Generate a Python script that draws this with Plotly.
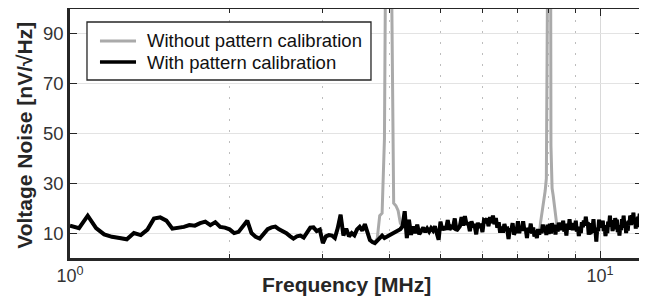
import numpy as np
import plotly.graph_objects as go

# Noise spectral density WITH pattern calibration [nV/sqrt(Hz)], sampled every 0.04 MHz from 1 MHz
with_cal = [
    13, 12, 17, 12, 9.5, 8.5, 8.0, 7.5, 10, 9.2,
    11.4, 15.8, 16.3, 15, 11.8, 12.1, 12.5, 13.2, 13.0, 14.0,
    14.6, 13.2, 14.4, 12.5, 12.2, 11.5, 10, 10.5, 13, 15,
    10, 8.5, 7.8, 9.5, 11.6, 12.3, 12.6, 11.5, 10.8, 10,
    8.8, 7.8, 8.7, 9.0, 8.2, 10.5, 12.2, 12.3, 10.8, 11.4,
    6.0, 8.7, 9.2, 9.0, 8.0, 12, 17.4, 9.0, 11.8, 8.7,
    10, 9.1, 11.5, 12.5, 11.0, 13.6, 10, 7.2, 6.4, 6.0,
    7.0, 7.8, 9.0, 8.0, 8.5, 9.3, 9.8, 10.2, 10.8, 11.1,
    11.6, 12.7, 18.8, 8, 15.4, 9.3, 12.7, 10, 13.4, 9.5,
    11.0, 12.2, 10.4, 11.8, 10.6, 12.0, 11.0, 12.7, 10, 7.3,
    14.6, 11.2, 12.6, 11.4, 15.2, 11.4, 12.6, 12.2, 15.9, 11.0,
    11.8, 12.8, 16.4, 13.0, 16.8, 13.4, 14.2, 10.8, 14.7, 12.9,
    13.0, 9.5, 14.1, 12.2, 13.7, 10.4, 15.2, 14.8, 15.8, 12.8,
    16.4, 14.0, 17.0, 13.6, 16.0, 12.2, 14.3, 10.2, 12.6, 10.2,
    13.6, 11.6, 11.8, 7.6, 11.8, 11.2, 14.0, 9.4, 10.6, 10.6,
    14.8, 10.0, 12.0, 11.0, 14.8, 11.0, 11.8, 8.0, 12.2, 10.2,
    13.8, 9.8, 12.2, 8.6, 11.0, 8.0, 11.6, 9.4, 11.2, 10.0,
    13.4, 10.6, 12.6, 9.2, 13.4, 9.6, 13.8, 9.8, 14.0, 11.2,
    13.4, 9.4, 13.2, 10.6, 14.2, 11.2, 13.4, 11.6, 15.0, 10.6,
    13.0, 9.0, 13.8, 11.4, 15.6, 11.4, 14.0, 11.2, 13.6, 11.6,
    15.0, 10.6, 12.6, 8.8, 11.6, 10.0, 14.4, 12.4, 15.0, 13.0,
    16.6, 13.6, 14.4, 9.4, 10.8, 9.6, 14.0, 12.0, 15.6, 10.2,
    11.4, 6.6, 12.2, 10.8, 15.4, 12.4, 14.8, 12.2, 15.0, 10.8,
    13.2, 8.8, 11.8, 10.0, 14.6, 12.8, 17.0, 12.6, 15.2, 10.8,
    13.6, 11.6, 16.0, 14.4, 15.4, 10.4, 12.8, 9.0, 13.2, 11.2,
    15.6, 13.4, 17.0, 12.2, 14.6, 10.0, 13.0, 11.0, 15.0, 13.2,
    17.0, 13.2, 17.2, 14.4, 18.2, 13.6, 16.2, 11.8, 14.4, 12.4,
    16.6, 14.4, 17.8, 13.8, 17.6, 15.0,
]

# Frequency grid [MHz]
freq_mhz = np.round(1.0 + 0.04 * np.arange(len(with_cal)), 2)

# WITHOUT pattern calibration: same floor, plus the two spurs near 4 MHz and 8 MHz
spur1_freq = [3.80, 3.84, 3.88, 3.92, 3.96, 4.00, 4.04, 4.08, 4.12, 4.16, 4.20]
spur1_vals = [8.0, 17.0, 18.0, 48, 200, 300, 120, 22, 21, 19, 14]
spur2_freq = [7.72, 7.76, 7.80, 7.84, 7.88, 7.92, 7.96, 8.00, 8.04, 8.08,
              8.12, 8.16, 8.20, 8.24, 8.28, 8.32]
spur2_vals = [14, 17, 20, 24, 27, 32, 110, 300, 300, 45,
              28, 25, 21, 17, 14, 12.5]

spurs = dict(zip(spur1_freq + spur2_freq, spur1_vals + spur2_vals))
without_cal = [spurs.get(round(float(f), 2), v) for f, v in zip(freq_mhz, with_cal)]

series_names = ["Without pattern calibration", "With pattern calibration"]
series_colors = ["#aaaaaa", "#000000"]
series_widths = [3, 4]
y_ticks = [10, 30, 50, 70, 90]
x_ticks = [1, 10]
x_ticktext = ["10<sup>0</sup>", "10<sup>1</sup>"]
x_minor = [2, 3, 4, 5, 6, 7, 8, 9]
x_title = "Frequency [MHz]"
y_title = "Voltage Noise [nV/√Hz]"

FONT = "Liberation Sans, Arial, sans-serif"
DARK = "#262626"

fig = go.Figure()
for name, yv, col, w in zip(series_names, [without_cal, with_cal], series_colors, series_widths):
    fig.add_trace(go.Scatter(x=freq_mhz, y=yv, mode="lines", name=name,
                             line=dict(color=col, width=w), showlegend=False))

# Legend drawn as a boxed key (paper coordinates)
shapes = [dict(type="rect", xref="paper", yref="paper", x0=0.0297, x1=0.5262,
               y0=0.7149, y1=0.9478, line=dict(color=DARK, width=1.3),
               fillcolor="white", layer="above")]
annotations = []
for name, col, w, yk in zip(series_names, series_colors, [3, 3.4], [0.8715, 0.7871]):
    shapes.append(dict(type="line", xref="paper", yref="paper", x0=0.0524, x1=0.1154,
                       y0=yk, y1=yk, line=dict(color=col, width=w), layer="above"))
    annotations.append(dict(text=name, xref="paper", yref="paper", x=0.1311, y=yk,
                            xanchor="left", yanchor="middle", showarrow=False,
                            font=dict(size=18.5, color="#111111")))

annotations += [
    dict(text="<b>" + x_title + "</b>", xref="paper", yref="paper",
         x=0.484, y=-0.108, xanchor="center", yanchor="middle",
         showarrow=False, font=dict(size=21, color=DARK)),
    dict(text="<b>" + y_title + "</b>", xref="paper", yref="paper",
         x=-0.079, y=0.494, xanchor="center", yanchor="middle", textangle=-90,
         showarrow=False, font=dict(size=21, color=DARK)),
]

# The page body carries an 8 px margin, so the figure is offset by it.
fig.update_layout(
    width=639, height=292,
    margin=dict(l=62, r=5, t=1, b=42, autoexpand=False),
    paper_bgcolor="white", plot_bgcolor="white",
    font=dict(family=FONT, color=DARK),
    showlegend=False,
    shapes=shapes,
    annotations=annotations,
)
fig.update_xaxes(
    type="log", range=[0, np.log10(12)], automargin=False,
    tickmode="array", tickvals=x_ticks, ticktext=x_ticktext,
    tickfont=dict(size=18, color="#333333"),
    ticks="inside", ticklen=7, tickwidth=1.3, tickcolor=DARK,
    showgrid=True, gridcolor="#d9d9d9", gridwidth=1.3,
    minor=dict(tickmode="array", tickvals=x_minor, ticks="inside", ticklen=4,
               tickcolor=DARK, showgrid=True, gridcolor="#bdbdbd",
               griddash="2px,9px", gridwidth=1.3),
    showline=True, linewidth=2.5, linecolor=DARK, mirror="ticks",
    zeroline=False,
)
fig.update_yaxes(
    range=[0, 100], automargin=False,
    tickmode="array", tickvals=y_ticks,
    tickfont=dict(size=18.5, color="#333333"),
    ticks="inside", ticklen=7, tickwidth=1.3, tickcolor=DARK,
    showgrid=True, gridcolor="#e3e3e3", gridwidth=1.3,
    showline=True, linewidth=2.5, linecolor=DARK, mirror="ticks",
    zeroline=False,
)

fig.write_html("out.html")
